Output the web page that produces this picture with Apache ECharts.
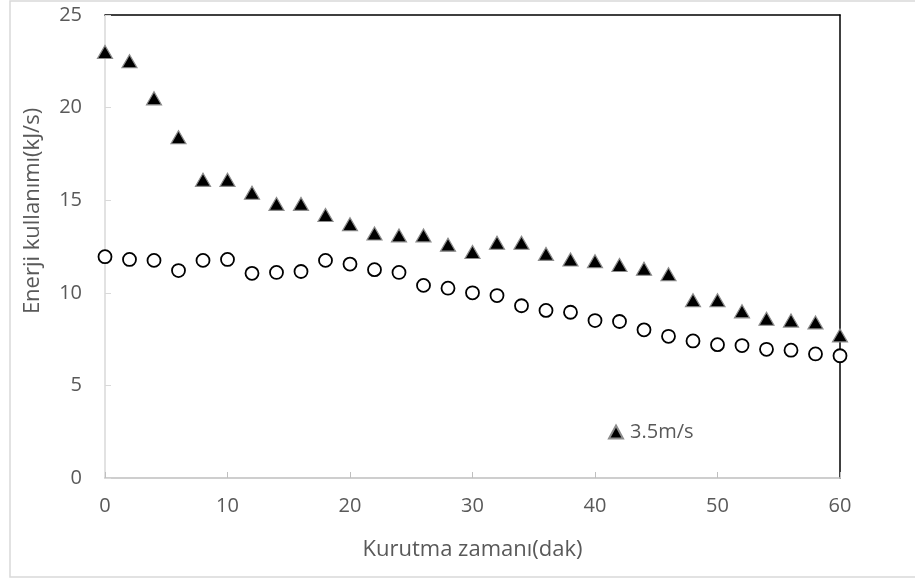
<!DOCTYPE html>
<html>
<head>
<meta charset="utf-8">
<script src="https://cdn.jsdelivr.net/npm/echarts@6/dist/echarts.min.js"></script>
<style>
html,body{margin:0;padding:0;background:#fff;}
#chart{width:915px;height:581px;}
</style>
</head>
<body>
<div id="chart"></div>
<script>
// Data
const timeMin = [0,2,4,6,8,10,12,14,16,18,20,22,24,26,28,30,32,34,36,38,40,42,44,46,48,50,52,54,56,58,60];
const energy35 = [23.0,22.5,20.5,18.4,16.1,16.1,15.4,14.8,14.8,14.2,13.7,13.2,13.1,13.1,12.6,12.2,12.7,12.7,12.1,11.8,11.7,11.5,11.3,11.0,9.6,9.6,9.0,8.6,8.5,8.4,7.7];
const energyOther = [11.95,11.8,11.75,11.2,11.75,11.8,11.05,11.1,11.15,11.75,11.55,11.25,11.1,10.4,10.25,10.0,9.85,9.3,9.05,8.95,8.5,8.45,8.0,7.65,7.4,7.2,7.15,6.95,6.9,6.7,6.6];
const xTicks = [0,10,20,30,40,50,60];
const yTicks = [0,5,10,15,20,25];
const legendLabel = '3.5m/s';
const xTitle = 'Kurutma zamanı(dak)';
const yTitle = 'Enerji kullanımı(kJ/s)';

const FONT = '"Open Sans", "Noto Sans", sans-serif';
const TXT = '#595959';

const chart = echarts.init(document.getElementById('chart'), null, {renderer:'canvas'});
const pair = (xs, ys) => xs.map((x,i)=>[x, ys[i]]);

chart.setOption({
  animation:false,
  backgroundColor:'#ffffff',
  textStyle:{fontFamily:FONT},
  grid:{left:105, right:75, top:15, bottom:103, containLabel:false},
  graphic:[
    {type:'rect', z:-10, shape:{x:10, y:1, width:910, height:576}, style:{fill:'none', stroke:'#d9d9d9', lineWidth:1.5}},
    {type:'text', x:33, y:211, rotation:Math.PI/2,
     style:{text:yTitle, fill:TXT, font:'22px ' + FONT, textAlign:'center', textVerticalAlign:'middle'}}
  ],
  legend:{
    data:[{name:legendLabel, icon:'triangle'}],
    left:603, top:417, itemWidth:14, itemHeight:13, itemGap:4,
    textStyle:{color:TXT, fontSize:20, fontFamily:FONT, padding:[0,0,0,2]}
  },
  xAxis:[{
    type:'value', min:0, max:60, interval:10,
    name:xTitle, nameLocation:'middle', nameGap:61,
    nameTextStyle:{color:TXT, fontSize:22, fontFamily:FONT},
    axisLine:{show:true, onZero:false, lineStyle:{color:'#bfbfbf', width:1.5}},
    axisTick:{show:true, inside:true, length:6, lineStyle:{color:'#bfbfbf'}},
    axisLabel:{color:TXT, fontSize:20, fontFamily:FONT, margin:18,
      formatter:v => xTicks.includes(v) ? String(v) : ''},
    splitLine:{show:false}
  },{
    type:'value', min:0, max:60, position:'top',
    axisLine:{show:true, onZero:false, lineStyle:{color:'#000', width:1.5}},
    axisTick:{show:false}, axisLabel:{show:false}, splitLine:{show:false}
  }],
  yAxis:[{
    type:'value', min:0, max:25, interval:5,
    axisLine:{show:true, onZero:false, lineStyle:{color:'#d9d9d9', width:1.5}},
    axisTick:{show:true, inside:true, length:6, lineStyle:{color:'#d9d9d9'}},
    axisLabel:{color:TXT, fontSize:20, fontFamily:FONT, margin:23,
      formatter:v => yTicks.includes(v) ? String(v) : ''},
    splitLine:{show:false}
  },{
    type:'value', min:0, max:25, position:'right',
    axisLine:{show:true, onZero:false, lineStyle:{color:'#000', width:1.5}},
    axisTick:{show:false}, axisLabel:{show:false}, splitLine:{show:false}
  }],
  series:[{
    name:legendLabel, type:'scatter', symbol:'triangle', symbolSize:[15,13],
    itemStyle:{color:'#000', borderColor:'#8c8c8c', borderWidth:1.2, opacity:1},
    data:pair(timeMin, energy35), z:3
  },{
    name:'other', type:'scatter', symbol:'circle', symbolSize:13,
    itemStyle:{color:'#fff', borderColor:'#000', borderWidth:1.8, opacity:1},
    data:pair(timeMin, energyOther), z:3
  }]
});
</script>
</body>
</html>
